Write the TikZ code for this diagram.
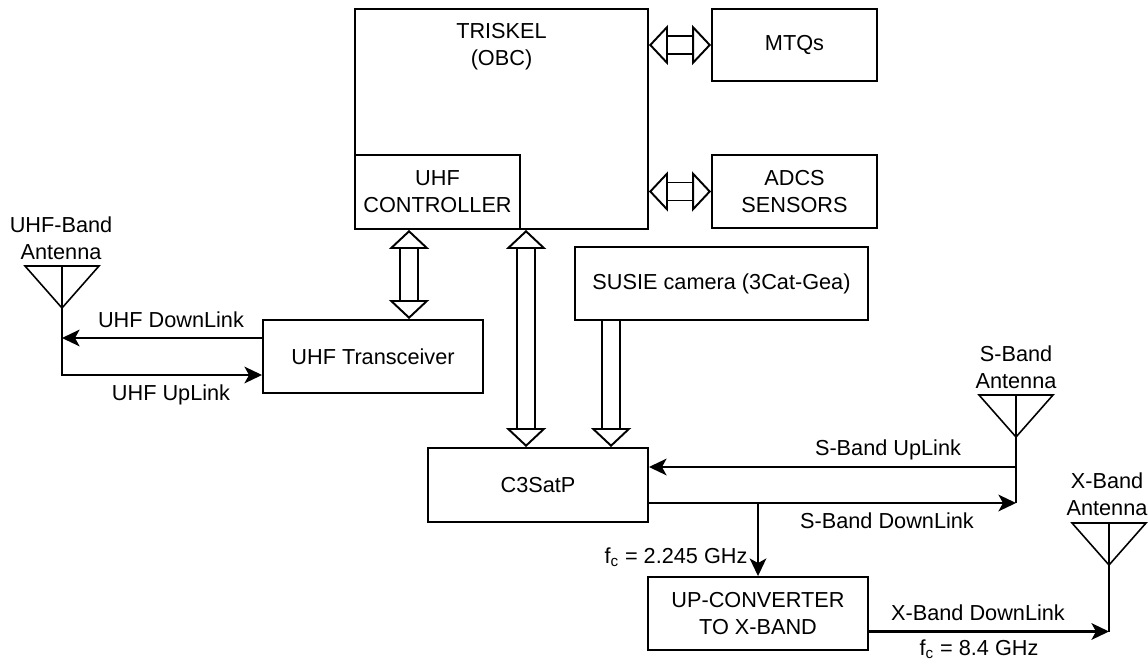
\documentclass[tikz,border=0pt]{standalone}
\usepackage{fontspec}
\setmainfont{Liberation Sans}
\usetikzlibrary{arrows.meta, positioning, calc}

\begin{document}
\begin{tikzpicture}[
        x=0.02cm, y=-0.02cm,
        every node/.style={font=\fontsize{12.35}{15.4}\selectfont},
        box/.style={draw, line width=1.1pt, inner sep=0pt, align=center},
        lbl/.style={inner sep=0pt, align=center},
        link/.style={line width=1.2pt, -{Stealth[length=10pt, width=9.5pt, inset=2.6pt]}},
        wire/.style={line width=1.2pt},
        aerial/.style={line width=0.9pt, line join=miter},
        bus/.style={line width=1.1pt, double, double distance=9.15pt},
        bustip/.tip={Triangle[fill=white, length=10.8pt, width=22.8pt, line width=1.1pt]}
    ]
    \useasboundingbox (0,0) rectangle (1148,662);

    % Main blocks
    \node[box, minimum width=293*0.02cm, minimum height=220*0.02cm] (obc) at (501.5, 119) {};
    \node[lbl] (obclbl) at (501.5, 46.5) {TRISKEL\\(OBC)};
    \node[box, minimum width=165*0.02cm, minimum height=74*0.02cm] (ctrl) at (437.5, 192) {UHF\\CONTROLLER};
    \node[box, minimum width=165*0.02cm, minimum height=72*0.02cm] (mtq) at (794.5, 45) {MTQs};
    \node[box, minimum width=165*0.02cm, minimum height=73*0.02cm] (adcs) at (794.5, 191.5) {ADCS\\SENSORS};
    \node[box, minimum width=293*0.02cm, minimum height=73*0.02cm] (susie) at (721.5, 283.5) {SUSIE camera (3Cat-Gea)};
    \node[box, minimum width=220*0.02cm, minimum height=73*0.02cm] (trx) at (373, 356.5) {UHF Transceiver};
    \node[box, minimum width=220*0.02cm, minimum height=74*0.02cm] (c3sat) at (538, 485) {C3SatP};
    \node[box, minimum width=220*0.02cm, minimum height=73*0.02cm] (upconv) at (758, 613.5) {UP-CONVERTER\\TO X-BAND};

    % Hollow buses
    \draw[bus, bustip-bustip] (obc.east |- mtq) -- (mtq.west);
    \draw[bus, bustip-bustip] (obc.east |- adcs) -- (adcs.west);
    \draw[bus, bustip-bustip] ($(ctrl.south west)+(55,0)$) -- ($(trx.north west)+(147,0)$);
    \draw[bus, bustip-bustip] ($(obc.south west)+(172,0)$) -- ($(c3sat.north west)+(99,0)$);
    \draw[bus, -bustip] ($(susie.south west)+(37,0)$) -- ($(c3sat.north west)+(184,0)$);

    % Antennas
    \coordinate (uhfant) at (62, 308);
    \coordinate (sant) at (1016, 437);
    \coordinate (xant) at (1109, 565);
    \foreach \a in {uhfant, sant, xant} {
        \draw[aerial] (\a) -- ++(-37, -42) -- ++(74, 0) -- cycle;
        \draw[aerial] (\a) -- ++(0, -42);
    }
    \node[lbl] (uhfantlbl) at (61, 238) {UHF-Band\\Antenna};
    \node[lbl] (santlbl) at (1016, 367) {S-Band\\Antenna};
    \node[lbl] (xantlbl) at (1107, 494) {X-Band\\Antenna};

    % UHF links
    \coordinate (trxdown) at ($(trx.west)+(0,-18.5)$);
    \coordinate (trxup) at ($(trx.west)+(0,18.5)$);
    \draw[link] (trxdown) -- (uhfant |- trxdown);
    \draw[link] (uhfant) |- (trxup);
    \node[lbl] (uhfdownlbl) at (171, 320) {UHF DownLink};
    \node[lbl] (uhfuplbl) at (171, 394.5) {UHF UpLink};

    % S-Band links
    \coordinate (c3up) at ($(c3sat.east)+(0,-18)$);
    \coordinate (c3down) at ($(c3sat.east)+(0,18)$);
    \draw[wire] (sant) -- (sant |- c3down);
    \draw[link] (sant |- c3up) -- (c3up);
    \draw[link] (c3down) -- (sant |- c3down);
    \node[lbl] (suplbl) at (888, 449.5) {S-Band UpLink};
    \node[lbl] (sdownlbl) at (887, 521) {S-Band DownLink};

    % X-Band path
    \draw[link] (upconv.north |- c3down) -- (upconv.north);
    \coordinate (upout) at ($(upconv.east)+(0,18)$);
    \draw[wire] (xant) -- (xant |- upout);
    \draw[link] (upout) -- (xant |- upout);
    \node[lbl] (fclbl) at (676, 557) {f\textsubscript{c} = 2.245 GHz};
    \node[lbl] (xdownlbl) at (978, 613) {X-Band DownLink};
    \node[lbl] (fxlbl) at (979, 649) {f\textsubscript{c} = 8.4 GHz};

\end{tikzpicture}
\end{document}
